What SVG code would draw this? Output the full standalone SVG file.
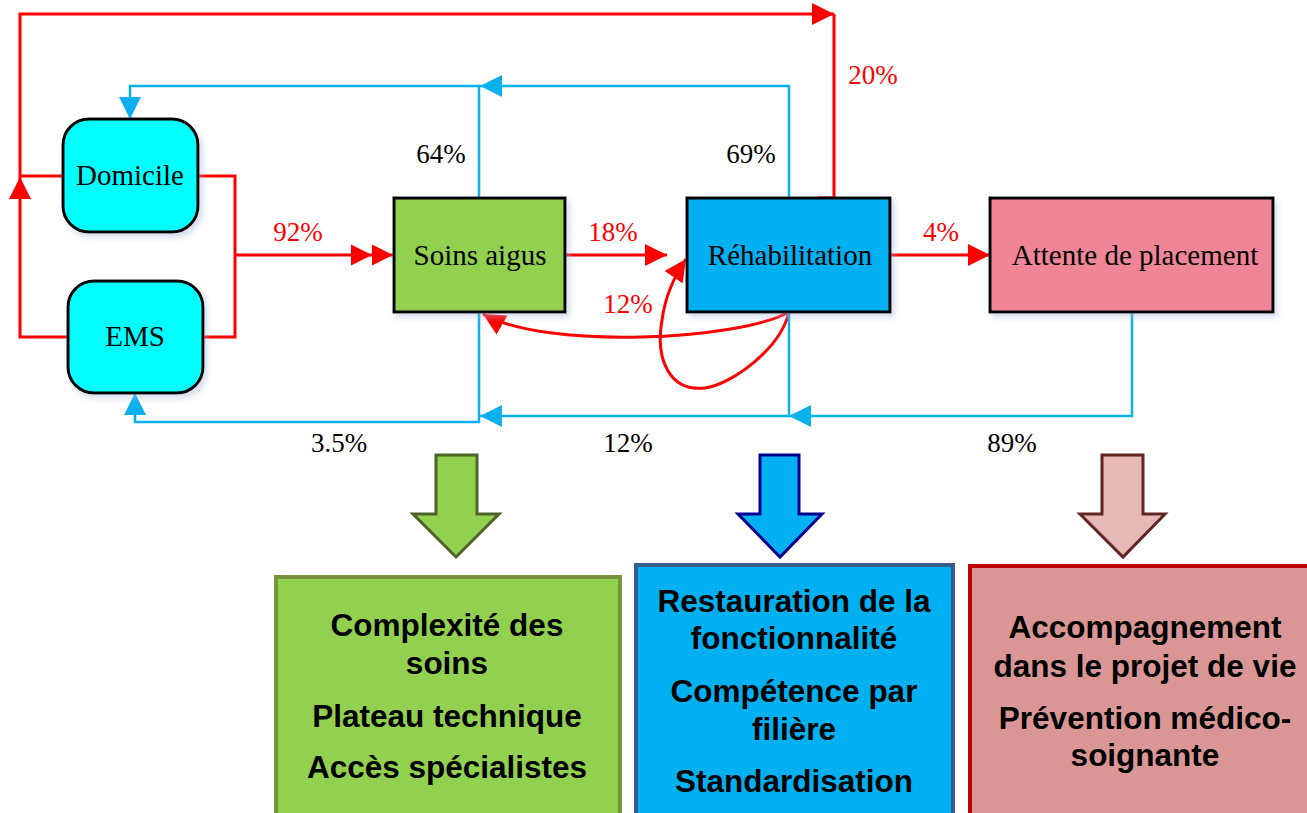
<svg xmlns="http://www.w3.org/2000/svg" width="1307" height="813" viewBox="0 0 1307 813">
<style>
.node{stroke:#000;stroke-width:3}
.nt{font-family:"Liberation Serif","Times New Roman",serif;font-size:29px;fill:#000;text-anchor:middle}
.lb{font-family:"Liberation Serif","Times New Roman",serif;font-size:27px;text-anchor:middle}
.red{fill:#ff0000}
.blk{fill:#000}
.r{fill:none;stroke:#ff0000;stroke-width:3}
.b{fill:none;stroke:#0cb0ee;stroke-width:2.5}
.bt{font-family:"Liberation Sans",Arial,sans-serif;font-weight:bold;font-size:31.5px;fill:#000;text-anchor:middle}
</style>
<defs>
<filter id="sh" x="-10%" y="-10%" width="130%" height="130%">
<feDropShadow dx="3" dy="4" stdDeviation="3" flood-color="#9fb4d6" flood-opacity="0.45"/>
</filter>
<marker id="ar" markerUnits="userSpaceOnUse" markerWidth="22" markerHeight="22" refX="20" refY="10" orient="auto" viewBox="0 0 20 20">
<path d="M0,0 L20,10 L0,20 z" fill="#ff0000"/>
</marker>
<marker id="ar2" markerUnits="userSpaceOnUse" markerWidth="42" markerHeight="22" refX="40" refY="10" orient="auto" viewBox="0 0 40 20">
<path d="M0,0 L20,10 L0,20 z M20,0 L40,10 L20,20 z" fill="#ff0000"/>
</marker>
<marker id="ab" markerUnits="userSpaceOnUse" markerWidth="22" markerHeight="22" refX="20" refY="10" orient="auto" viewBox="0 0 20 20">
<path d="M0,0 L20,10 L0,20 z" fill="#0cb0ee"/>
</marker>
</defs>

<g id="connectors">
<path class="r" d="M68,337 H20 V177" marker-end="url(#ar)"/>
<path class="r" d="M63,176 H20 V14 H834" marker-end="url(#ar)"/>
<path class="r" d="M818,198 H834 V14"/>
<path class="r" d="M198,176 H235 V337 H203"/>
<path class="r" d="M235,255 H393" marker-end="url(#ar2)"/>
<path class="r" d="M565,255 H667" marker-end="url(#ar)"/>
<path class="r" d="M889,255 H990" marker-end="url(#ar)"/>
<path class="r" d="M789,312 C780,350 730,385 705,388 C670,392 655,360 662,320 C665,298 673,278 686,259" marker-end="url(#ar)"/>
<path class="r" d="M789,312 C740,340 545,350 483,314" marker-end="url(#ar)"/>
<path class="b" d="M479,198 V86 H130 V119" marker-end="url(#ab)"/>
<path class="b" d="M789,198 V86 H480" marker-end="url(#ab)"/>
<path class="b" d="M479,312 V422 H135 V393" marker-end="url(#ab)"/>
<path class="b" d="M789,312 V416 H480" marker-end="url(#ab)"/>
<path class="b" d="M1132,312 V416 H789" marker-end="url(#ab)"/>
</g>

<g id="labels">
<text class="lb red" x="298" y="241">92%</text>
<text class="lb blk" x="441" y="163">64%</text>
<text class="lb blk" x="751" y="163">69%</text>
<text class="lb red" x="873" y="84">20%</text>
<text class="lb red" x="613" y="241">18%</text>
<text class="lb red" x="628" y="313">12%</text>
<text class="lb red" x="941" y="241">4%</text>
<text class="lb blk" x="339" y="452">3.5%</text>
<text class="lb blk" x="628" y="452">12%</text>
<text class="lb blk" x="1012" y="452">89%</text>
</g>

<g id="domicile">
<rect class="node" x="63" y="119" width="135" height="113" rx="26" fill="#00ffff" filter="url(#sh)"/>
<text class="nt" x="130" y="185">Domicile</text>
</g>
<g id="ems">
<rect class="node" x="68" y="281" width="135" height="112" rx="26" fill="#00ffff" filter="url(#sh)"/>
<text class="nt" x="135" y="346">EMS</text>
</g>
<g id="soins-aigus">
<rect class="node" x="394" y="198" width="171" height="114" fill="#92d050" filter="url(#sh)"/>
<text class="nt" x="480" y="265">Soins aigus</text>
</g>
<g id="rehabilitation">
<rect class="node" x="687" y="198" width="203" height="114" fill="#00b0f0" filter="url(#sh)"/>
<text class="nt" x="790" y="265">Réhabilitation</text>
</g>
<g id="attente">
<rect class="node" x="990" y="198" width="283" height="114" fill="#f08597" filter="url(#sh)"/>
<text class="nt" x="1135" y="265">Attente de placement</text>
</g>

<g id="arrow-green">
<path d="M436,455 H477 V514 H499 L456,557 L413,514 H436 Z" fill="#92d050" stroke="#4f6228" stroke-width="3"/>
</g>
<g id="arrow-blue">
<path d="M760,455 H799 V514 H822 L780,557 L738,514 H760 Z" fill="#00b0f0" stroke="#00008f" stroke-width="3"/>
</g>
<g id="arrow-pink">
<path d="M1102,455 H1143 V514 H1165 L1123,557 L1080,514 H1102 Z" fill="#e6b9b8" stroke="#632523" stroke-width="3"/>
</g>

<g id="box-soins">
<rect x="276" y="577" width="344" height="260" fill="#92d050" stroke="#77933c" stroke-width="4"/>
<text class="bt" x="447" y="636">Complexité des</text>
<text class="bt" x="447" y="674">soins</text>
<text class="bt" x="447" y="727">Plateau technique</text>
<text class="bt" x="447" y="778">Accès spécialistes</text>
</g>
<g id="box-rehab">
<rect x="636" y="565" width="317" height="270" fill="#00b0f0" stroke="#385d8a" stroke-width="4"/>
<text class="bt" x="794" y="612">Restauration de la</text>
<text class="bt" x="794" y="649">fonctionnalité</text>
<text class="bt" x="794" y="702">Compétence par</text>
<text class="bt" x="794" y="740">filière</text>
<text class="bt" x="794" y="792">Standardisation</text>
</g>
<g id="box-attente">
<rect x="970" y="566" width="360" height="270" fill="#d99694" stroke="#c00000" stroke-width="4"/>
<text class="bt" x="1145" y="638">Accompagnement</text>
<text class="bt" x="1145" y="677">dans le projet de vie</text>
<text class="bt" x="1145" y="729">Prévention médico-</text>
<text class="bt" x="1145" y="766">soignante</text>
</g>
</svg>
